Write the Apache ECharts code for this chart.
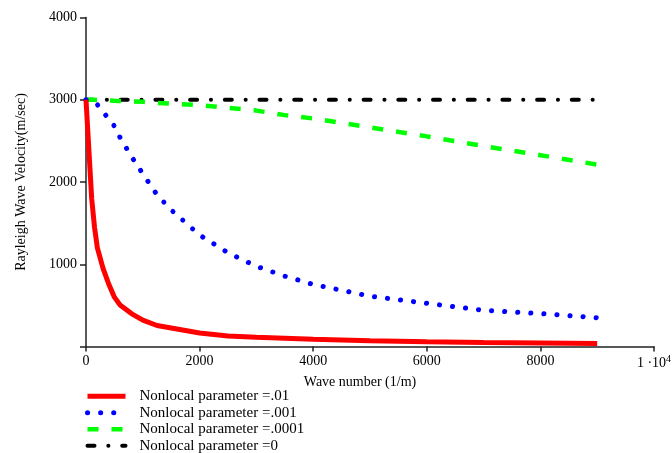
<!DOCTYPE html>
<html>
<head>
<meta charset="utf-8">
<script src="https://cdn.jsdelivr.net/npm/echarts@6/dist/echarts.min.js"></script>
<style>
  html, body { margin: 0; padding: 0; background: #fff; }
  #chart { width: 672px; height: 453px; }
</style>
</head>
<body>
<div id="chart"></div>
<script>
// wave number (1/m)
var waveNumbers = [0, 50, 100, 150, 200, 300, 400, 500, 600, 800, 1000, 1250, 1500, 2000, 2500, 3000, 3500, 4000, 5000, 6000, 7000, 8000, 9000];
// rayleigh wave velocity (m/sec) per nonlocal parameter
var vel01   = [3000, 2400, 1800, 1450, 1200, 950, 760, 600, 505, 400, 320, 255, 225, 165, 128, 112, 100, 88, 70, 58, 50, 44, 36];
var vel001  = [3000, 3000, 2985, 2965, 2940, 2860, 2760, 2680, 2540, 2310, 2100, 1845, 1660, 1355, 1140, 975, 855, 755, 612, 525, 440, 400, 350];
var vel0001 = [3000, 3000, 2999, 2999, 2998, 2996, 2993, 2988, 2985, 2980, 2975, 2962, 2952, 2934, 2903, 2868, 2813, 2772, 2664, 2555, 2437, 2326, 2212];
var vel0    = [3000, 3000, 3000, 3000, 3000, 3000, 3000, 3000, 3000, 3000, 3000, 3000, 3000, 3000, 3000, 3000, 3000, 3000, 3000, 3000, 3000, 3000, 3000];
var seriesNames = ['Nonlocal parameter =.01', 'Nonlocal parameter =.001', 'Nonlocal parameter =.0001', 'Nonlocal parameter =0'];

function pairs(v) {
    return waveNumbers.map(function (k, i) { return [k, v[i]]; });
}

var styles = [
    { color: '#ff0000', width: 5, type: 'solid', cap: 'butt' },
    { color: '#0000ff', width: 5, type: [0.1, 13], cap: 'round' },
    { color: '#00ff00', width: 4.5, type: [11, 13], cap: 'butt' },
    { color: '#000', width: 4, type: [7, 13.8, 0.1, 13.8], cap: 'round' }
];

var font = 'Liberation Serif';
var option = {
    animation: false,
    grid: {
        left: 86,
        right: 18,
        top: 17.5,
        bottom: 106.5,
        outerBoundsMode: 'none'
    },
    legend: {
        orient: 'vertical',
        left: 85,
        top: 388,
        height: 70,
        padding: 0,
        itemWidth: 38,
        itemHeight: 10,
        itemGap: 0,
        data: seriesNames.map(function (n, i) {
            return { name: n, lineStyle: styles[i] };
        }),
        itemStyle: { opacity: 0 },
        textStyle: {
            fontFamily: font,
            fontSize: 15,
            color: '#000',
            lineHeight: 16.5,
            padding: [0, 0, 0, 9]
        }
    },
    xAxis: {
        type: 'value',
        min: 0,
        max: 10000,
        interval: 2000,
        name: 'Wave number (1/m)',
        nameLocation: 'middle',
        nameGap: 27,
        nameTextStyle: {
            fontFamily: font,
            fontSize: 14,
            color: '#000',
            padding: [0, 20, 0, 0]
        },
        axisLine: { lineStyle: { color: '#222', width: 1.5 } },
        axisTick: { length: 5, lineStyle: { color: '#222', width: 1.5 } },
        splitLine: { show: false },
        axisLabel: {
            margin: 8,
            fontFamily: font,
            fontSize: 14,
            color: '#000',
            formatter: function (v) {
                return v === 10000 ? '1 ·10{sup|4}' : String(v);
            },
            rich: {
                sup: { fontFamily: font, fontSize: 10, color: '#000', verticalAlign: 'bottom', padding: [0, 0, 8, 0] }
            }
        }
    },
    yAxis: {
        type: 'value',
        min: 0,
        max: 4000,
        interval: 1000,
        name: 'Rayleigh Wave Velocity(m/sec)',
        nameLocation: 'middle',
        nameGap: 58,
        nameTextStyle: {
            fontFamily: font,
            fontSize: 14,
            color: '#000'
        },
        axisLine: { show: true, lineStyle: { color: '#222', width: 1.5 } },
        axisTick: { show: true, length: 6, lineStyle: { color: '#222', width: 1.5 } },
        splitLine: { show: false },
        axisLabel: {
            margin: 9,
            fontFamily: font,
            fontSize: 14,
            color: '#000',
            formatter: function (v) { return v === 0 ? '' : String(v); }
        }
    },
    series: [{
        name: seriesNames[3],
        type: 'line',
        data: pairs(vel0),
        symbol: 'none',
        itemStyle: { color: styles[3].color },
        lineStyle: styles[3],
        z: 2
    }, {
        name: seriesNames[2],
        type: 'line',
        data: pairs(vel0001),
        symbol: 'none',
        itemStyle: { color: styles[2].color },
        lineStyle: styles[2],
        z: 3
    }, {
        name: seriesNames[1],
        type: 'line',
        data: pairs(vel001),
        symbol: 'none',
        itemStyle: { color: styles[1].color },
        lineStyle: styles[1],
        z: 4
    }, {
        name: seriesNames[0],
        type: 'line',
        data: pairs(vel01),
        symbol: 'none',
        itemStyle: { color: styles[0].color },
        lineStyle: styles[0],
        z: 5
    }]
};
var myChart = echarts.init(document.getElementById('chart'));
myChart.setOption(option);
</script>
</body>
</html>
